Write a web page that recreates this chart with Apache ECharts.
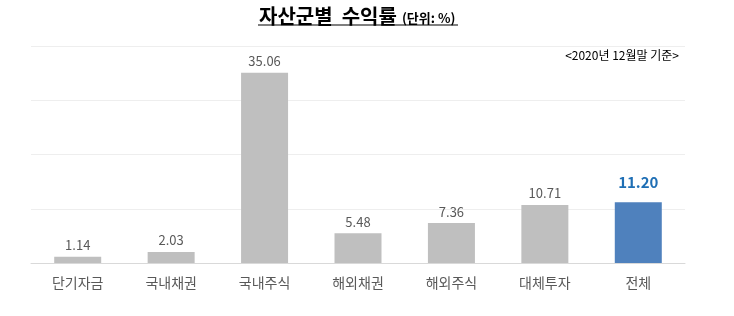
<!DOCTYPE html>
<html><head><meta charset="utf-8">
<script src="https://cdn.jsdelivr.net/npm/echarts@6/dist/echarts.min.js"></script>
<style>html,body{margin:0;padding:0;background:#fff}#c{width:734px;height:316px}</style>
</head><body><div id="c"></div>
<script>
const categories = ['단기자금','국내채권','국내주식','해외채권','해외주식','대체투자','전체'];
const values = [1.14, 2.03, 35.06, 5.48, 7.36, 10.71, 11.20];
const labels = ['1.14','2.03','35.06','5.48','7.36','10.71','11.20'];
const highlightIndex = 6;

const chart = echarts.init(document.getElementById('c'));
const font = '"Noto Sans CJK KR", "Noto Sans", sans-serif';
chart.setOption({
  animation: false,
  title: {
    text: '{a|자산군별  수익률} {b|(단위: %)}',
    left: 254, top: 1,
    textStyle: {
      rich: {
        a: {fontSize: 20, fontWeight: 'bold', color: '#000', fontFamily: font},
        b: {fontSize: 13, color: '#000', fontFamily: font, padding:[4,0,0,0]}
      }
    }
  },
  graphic: [
    {type:'line', shape:{x1:258,y1:25,x2:458,y2:25}, style:{stroke:'#000',lineWidth:1.2}},
    {type:'text', right: 55, top: 49, style:{text:'<2020년 12월말 기준>', fontSize:12, fill:'#000', fontFamily: font}}
  ],
  grid: {left: 31, right: 49, top: 46, bottom: 53},
  xAxis: {
    type: 'category', data: categories,
    axisTick: {show:false},
    axisLine: {lineStyle:{color:'#D9D9D9'}},
    axisLabel: {color:'#595959', fontSize:14, fontFamily: font, margin: 13}
  },
  yAxis: {
    type: 'value', min: 0, max: 40, interval: 10,
    axisLabel: {show:false}, axisLine:{show:false}, axisTick:{show:false},
    splitLine: {lineStyle:{color:'#EEEEEE'}}
  },
  series: [{
    type: 'bar', barWidth: 47,
    data: values.map((v,i)=>({
      value: v,
      itemStyle: {color: i===highlightIndex ? '#4F81BD' : '#BFBFBF'},
      label: i===highlightIndex ? {color:'#1F6FB5', fontSize:15, fontWeight:'bold', distance:12} : {}
    })),
    label: {
      show: true, position: 'top', distance: 5, color:'#595959', fontSize:13, fontFamily: font,
      formatter: p => labels[p.dataIndex]
    }
  }]
});
</script></body></html>
